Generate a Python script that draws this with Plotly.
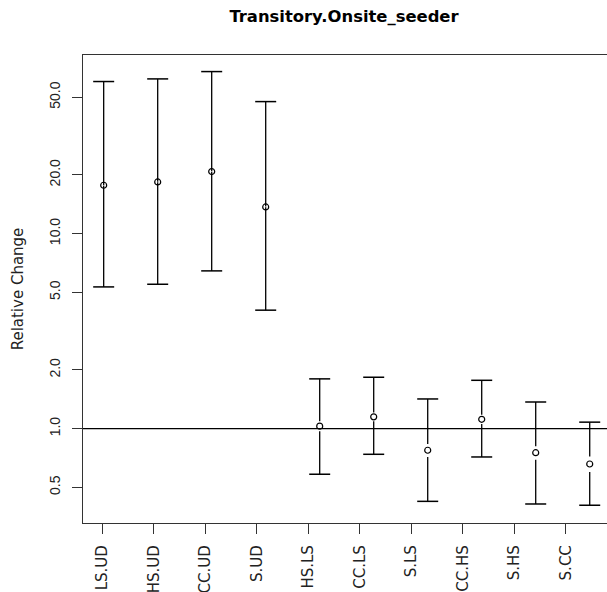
import plotly.graph_objects as go

# ---- data ----
categories = ["LS.UD", "HS.UD", "CC.UD", "S.UD", "HS.LS", "CC.LS", "S.LS", "CC.HS", "S.HS", "S.CC"]
estimate = [17.7, 18.4, 20.8, 13.7, 1.03, 1.15, 0.775, 1.117, 0.753, 0.659]
upper = [60.2, 62.1, 67.7, 47.5, 1.80, 1.835, 1.42, 1.77, 1.37, 1.08]
lower = [5.33, 5.50, 6.44, 4.05, 0.584, 0.739, 0.424, 0.716, 0.411, 0.405]
y_tick_values = [0.5, 1, 2, 5, 10, 20, 50]
y_tick_labels = ["0.5", "1.0", "2.0", "5.0", "10.0", "20.0", "50.0"]

# ---- layout constants ----
GAP = 0.06            # gap around the point marker (data units, as plotrix)
TICK_START = 0.974    # x-axis label positions (offset from the points, as in the original)
TICK_STEP = 0.9537

xpos = list(range(1, len(categories) + 1))
tick_pos = [TICK_START + TICK_STEP * i for i in range(len(categories))]

seg_x, seg_y = [], []
for x, e, u, l in zip(xpos, estimate, upper, lower):
    seg_x += [x, x, None, x, x, None]
    seg_y += [l, max(e - GAP, l), None, min(e + GAP, u), u, None]

fig = go.Figure()
fig.add_trace(go.Scatter(x=seg_x, y=seg_y, mode="lines",
                         line=dict(color="black", width=1.3),
                         hoverinfo="skip", showlegend=False))
fig.add_trace(go.Scatter(x=xpos + xpos, y=upper + lower, mode="markers",
                         marker=dict(symbol="line-ew", size=15,
                                     line=dict(color="black", width=1.5)),
                         showlegend=False))
fig.add_trace(go.Scatter(x=xpos, y=estimate, mode="markers",
                         marker=dict(symbol="circle-open", size=6, color="black",
                                     line=dict(color="black", width=1.2)),
                         showlegend=False))

fig.add_shape(type="line", xref="paper", yref="y", x0=0, x1=1, y0=1, y1=1,
              line=dict(color="black", width=1.2), layer="above")

main_font = "DejaVu Sans, Verdana, sans-serif"
narrow_font = "Liberation Sans Narrow, Arial Narrow, Liberation Sans, Arial, sans-serif"
fig.update_layout(
    width=607, height=592,
    margin=dict(l=83, r=0, t=55, b=69),
    paper_bgcolor="white", plot_bgcolor="white",
    font=dict(family=main_font, size=15, color="#222"),
    title=dict(text="<b>Transitory.Onsite_seeder</b>", x=0.5667, xanchor="center",
               y=0.9718, yanchor="middle",
               font=dict(family=main_font, size=16.4, color="black")),
    showlegend=False,
)
fig.update_xaxes(
    range=[0.617, 10.32], tickmode="array", tickvals=tick_pos, ticktext=categories,
    tickangle=-90, ticks="outside", ticklen=10, tickcolor="#333", tickwidth=1,
    showline=True, linecolor="#333", linewidth=1.3, mirror=True,
    showgrid=False, zeroline=False,
    tickfont=dict(family=main_font, size=15, color="#222"),
    ticklabelstandoff=5,
)
fig.update_yaxes(
    type="log", range=[-0.4836, 1.9156], tickmode="array",
    tickvals=y_tick_values, ticktext=y_tick_labels, tickangle=-90,
    ticks="outside", ticklen=10, tickcolor="#333", tickwidth=1,
    showline=True, linecolor="#333", linewidth=1.3, mirror=False,
    showgrid=False, zeroline=False,
    tickfont=dict(family=narrow_font, size=14, color="#222"),
    ticklabelstandoff=6,
    title=dict(text="Relative Change", font=dict(family=main_font, size=15, color="#222"),
               standoff=20),
)

fig.write_html(
    "out.html",
    config={"displayModeBar": False},
    post_script="document.body.style.margin='0';"
                "document.documentElement.style.overflow='hidden';",
)
